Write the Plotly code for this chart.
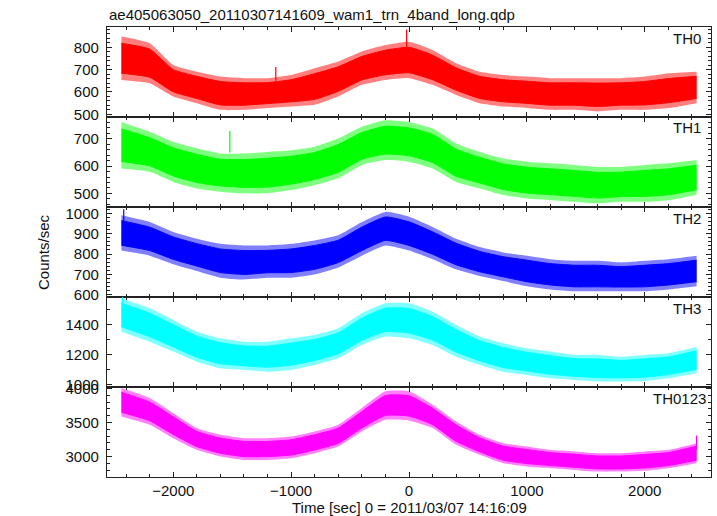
import plotly.graph_objects as go

# ---- data (envelopes, counts/sec) ----
t = [-2440, -2200, -2000, -1800, -1600, -1400, -1200, -1000, -800, -600, -400, -200,
     0, 200, 400, 600, 800, 1000, 1200, 1400, 1600, 1800, 2000, 2200, 2440]

# outer (spike) envelope
th0_hi = [848, 818, 721, 691, 669, 662, 662, 676, 706, 736, 781, 810,
          825, 788, 729, 691, 676, 669, 662, 662, 662, 662, 669, 684, 691]
th0_lo = [654, 639, 580, 550, 520, 520, 528, 535, 543, 580, 632, 654,
          662, 632, 587, 550, 535, 528, 520, 520, 513, 520, 520, 528, 550]
# dense core
th0_chi = [818, 792, 700, 670, 647, 641, 642, 655, 682, 713, 759, 787,
           800, 765, 708, 670, 655, 648, 641, 641, 640, 641, 647, 660, 670]
th0_clo = [684, 666, 601, 571, 542, 541, 548, 556, 567, 603, 654, 677,
           686, 655, 608, 571, 556, 549, 541, 541, 535, 541, 542, 552, 571]

th1_hi = [762, 726, 689, 665, 646, 646, 652, 658, 671, 701, 744, 768,
          762, 738, 683, 652, 628, 616, 610, 604, 597, 597, 604, 610, 622]
th1_lo = [591, 579, 542, 518, 506, 500, 500, 512, 530, 555, 604, 622,
          616, 591, 542, 518, 494, 481, 475, 469, 463, 469, 469, 475, 494]
th1_chi = [736, 704, 667, 643, 625, 624, 629, 636, 650, 679, 723, 746,
           740, 716, 662, 632, 608, 596, 590, 584, 577, 578, 584, 590, 603]
th1_clo = [617, 601, 564, 540, 527, 522, 523, 534, 551, 577, 625, 644,
           638, 613, 563, 538, 514, 501, 495, 489, 483, 488, 489, 495, 513]

th2_hi = [990, 957, 908, 875, 850, 842, 842, 850, 867, 892, 957, 1007,
          983, 933, 875, 834, 808, 792, 775, 767, 767, 759, 767, 775, 792]
th2_lo = [817, 792, 750, 717, 684, 675, 684, 684, 700, 734, 792, 842,
          817, 775, 725, 692, 667, 642, 626, 617, 617, 617, 617, 626, 642]
th2_chi = [964, 932, 884, 851, 825, 817, 818, 825, 842, 868, 932, 982,
           958, 909, 853, 813, 787, 770, 753, 745, 745, 738, 745, 753, 770]
th2_clo = [843, 817, 774, 741, 709, 700, 708, 709, 725, 758, 817, 867,
           842, 799, 747, 713, 688, 664, 648, 639, 639, 638, 639, 648, 664]

th3_hi = [1573, 1507, 1429, 1351, 1307, 1284, 1284, 1307, 1329, 1373, 1473, 1540,
          1540, 1484, 1396, 1318, 1273, 1240, 1218, 1196, 1196, 1184, 1196, 1207, 1251]
th3_lo = [1351, 1284, 1218, 1151, 1107, 1096, 1084, 1096, 1129, 1173, 1262, 1318,
          1307, 1262, 1184, 1129, 1084, 1062, 1040, 1029, 1018, 1018, 1022, 1040, 1073]
th3_chi = [1540, 1474, 1397, 1321, 1277, 1256, 1254, 1275, 1299, 1343, 1441, 1507,
           1505, 1451, 1364, 1290, 1245, 1213, 1191, 1171, 1169, 1159, 1170, 1182, 1224]
th3_clo = [1384, 1317, 1250, 1181, 1137, 1124, 1114, 1128, 1159, 1203, 1294, 1351,
           1342, 1295, 1216, 1157, 1112, 1089, 1067, 1054, 1045, 1043, 1048, 1065, 1100]

th0123_hi = [4005, 3858, 3637, 3417, 3319, 3270, 3270, 3294, 3368, 3466, 3711, 3956,
             3956, 3760, 3515, 3319, 3196, 3147, 3098, 3074, 3049, 3049, 3074, 3098, 3196]
th0123_lo = [3588, 3466, 3270, 3098, 3000, 2951, 2951, 2975, 3049, 3147, 3368, 3540,
             3530, 3417, 3172, 3025, 2902, 2853, 2828, 2804, 2779, 2779, 2790, 2828, 2902]
th0123_chi = [3943, 3799, 3582, 3369, 3271, 3222, 3222, 3246, 3320, 3418, 3660, 3894,
              3892, 3709, 3464, 3275, 3152, 3103, 3058, 3034, 3009, 3009, 3031, 3058, 3152]
th0123_clo = [3650, 3525, 3325, 3146, 3048, 2999, 2999, 3023, 3097, 3195, 3419, 3602,
              3594, 3468, 3223, 3069, 2946, 2897, 2868, 2844, 2819, 2819, 2833, 2868, 2946]

# notable isolated spikes: (times, lows, highs)
spikes = {
    "TH0": ([-20, -1130], [800, 650], [880, 712]),
    "TH1": ([-1520], [650], [729]),
    "TH2": ([-2420], [950], [1020]),
    "TH3": ([-2430], [1500], [1590]),
    "TH0123": ([2440], [3100], [3310]),
}

names = ["TH0", "TH1", "TH2", "TH3", "TH0123"]
colors = ["#ff0000", "#00ff00", "#0000ff", "#00ffff", "#ff00ff"]
fringe = ["rgba(255,0,0,0.5)", "rgba(0,255,0,0.5)", "rgba(0,0,255,0.5)",
          "rgba(0,255,255,0.5)", "rgba(255,0,255,0.5)"]
his = [th0_hi, th1_hi, th2_hi, th3_hi, th0123_hi]
los = [th0_lo, th1_lo, th2_lo, th3_lo, th0123_lo]
chis = [th0_chi, th1_chi, th2_chi, th3_chi, th0123_chi]
clos = [th0_clo, th1_clo, th2_clo, th3_clo, th0123_clo]
yranges = [[488, 891], [450, 780], [589, 1031], [982, 1582], [2700, 4020]]
ydticks = [100, 100, 100, 200, 500]
yminor = [20, 20, 20, 100, 100]
xrange_ = [-2562, 2562]

title_text = "ae405063050_20110307141609_wam1_trn_4band_long.qdp"
xtitle = "Time [sec] 0 = 2011/03/07 14:16:09"
ytitle = "Counts/sec"

FONT = "Liberation Sans, Arial, Helvetica, sans-serif"
AX = "#222222"

fig = go.Figure()
layout = {}
n = len(names)
for i in range(n):
    sfx = "" if i == 0 else str(i + 1)
    xa, ya = "x" + sfx, "y" + sfx
    c = colors[i]
    sp = dict(shape="spline", smoothing=0.5)
    # outer fringe
    fig.add_trace(go.Scatter(x=t, y=los[i], xaxis=xa, yaxis=ya, mode="lines",
                             line=dict(width=0, color=fringe[i], **sp),
                             showlegend=False, hoverinfo="skip"))
    fig.add_trace(go.Scatter(x=t, y=his[i], xaxis=xa, yaxis=ya, mode="lines",
                             line=dict(width=0, color=fringe[i], **sp),
                             fill="tonexty", fillcolor=fringe[i],
                             showlegend=False, hoverinfo="skip"))
    # dense core
    fig.add_trace(go.Scatter(x=t, y=clos[i], xaxis=xa, yaxis=ya, mode="lines",
                             line=dict(width=1, color=c, **sp),
                             showlegend=False, hoverinfo="skip"))
    fig.add_trace(go.Scatter(x=t, y=chis[i], xaxis=xa, yaxis=ya, mode="lines",
                             line=dict(width=1, color=c, **sp),
                             fill="tonexty", fillcolor=c,
                             showlegend=False, hoverinfo="skip"))
    st, slo, shi = spikes[names[i]]
    for k in range(len(st)):
        fig.add_trace(go.Scatter(x=[st[k], st[k]], y=[slo[k], shi[k]], xaxis=xa, yaxis=ya,
                                 mode="lines", line=dict(width=1.2, color=c),
                                 showlegend=False, hoverinfo="skip"))
    top = 1 - i / n
    bot = 1 - (i + 1) / n
    layout["xaxis" + sfx] = dict(
        range=xrange_, anchor=ya, domain=[0, 1], showgrid=False, zeroline=False,
        showline=True, linecolor=AX, linewidth=1.3, mirror="allticks",
        ticks="inside", ticklen=5, tickcolor=AX, tickwidth=1, dtick=1000, tick0=0,
        minor=dict(ticks="inside", ticklen=2.5, dtick=200, tick0=0, tickcolor=AX, showgrid=False),
        showticklabels=(i == n - 1),
        tickfont=dict(family=FONT, size=15, color="#111"),
        matches=None if i == 0 else "x",
    )
    layout["yaxis" + sfx] = dict(
        range=yranges[i], anchor=xa, domain=[bot, top], showgrid=False, zeroline=False,
        showline=True, linecolor=AX, linewidth=1.3, mirror="allticks",
        ticks="inside", ticklen=5, tickcolor=AX, tickwidth=1, dtick=ydticks[i], tick0=0,
        minor=dict(ticks="inside", ticklen=2.5, dtick=yminor[i], tick0=0, tickcolor=AX, showgrid=False),
        tickfont=dict(family=FONT, size=15, color="#111"), ticklabelstandoff=4,
    )

fig.update_layout(**layout)

ann = []
for i in range(n):
    top = 1 - i / n
    ann.append(dict(text=names[i], xref="paper", yref="paper", x=0.987 if i < n - 1 else 0.995,
                    y=top, yshift=-11, xanchor="right", yanchor="middle", showarrow=False,
                    font=dict(family=FONT, size=15, color="#111")))
ann.append(dict(text=title_text, xref="paper", yref="paper", x=0, y=1, yshift=13,
                xanchor="left", yanchor="middle", showarrow=False,
                font=dict(family=FONT, size=15, color="#111")))
ann.append(dict(text=xtitle, xref="paper", yref="paper", x=0.5, y=0, yshift=-30,
                xanchor="center", yanchor="middle", showarrow=False,
                font=dict(family=FONT, size=15, color="#111")))
ann.append(dict(text=ytitle, xref="paper", yref="paper", x=0, xshift=-64, y=0.5,
                xanchor="center", yanchor="middle", showarrow=False, textangle=-90,
                font=dict(family=FONT, size=15, color="#111")))

fig.update_layout(
    width=717, height=516,
    margin=dict(l=107, r=6, t=27, b=39, pad=0),
    paper_bgcolor="white", plot_bgcolor="white",
    annotations=ann, showlegend=False,
)

fig.write_html("out.html", config={"displayModeBar": False},
               post_script="document.body.style.margin='0';document.body.style.overflow='hidden';")
